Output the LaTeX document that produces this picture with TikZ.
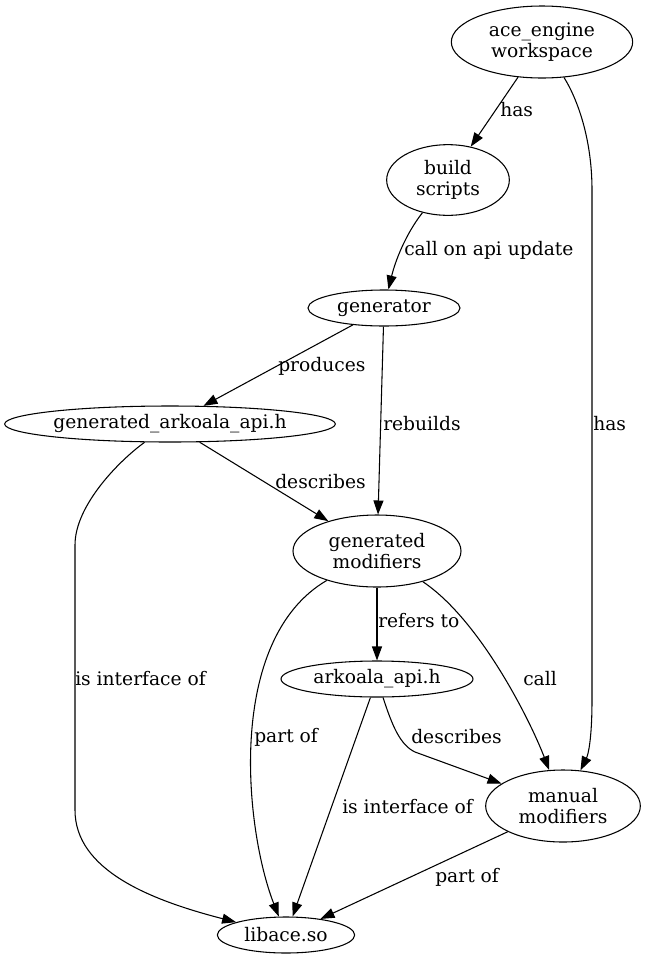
\documentclass[tikz,border=0pt]{standalone}
\usepackage{fontspec}
\setmainfont{DejaVu Serif}
\usetikzlibrary{shapes.geometric,arrows.meta}
\tikzset{
	blob/.style={draw,ellipse,line width=0.8pt,inner sep=0pt,align=center,font=\fontsize{14}{15.5}\selectfont},
	edge/.style={draw,line width=0.8pt,-{Triangle[length=10.5pt,width=7.5pt]}},
	lab/.style={anchor=west,inner sep=0pt,font=\fontsize{14}{15.5}\selectfont}
}
\begin{document}
\begin{tikzpicture}[x=0.75pt,y=-0.75pt]
	\useasboundingbox (0,0) rectangle (648,965);

	\node[blob,minimum width=136pt,minimum height=54pt] (ace) at (542,42) {ace\_engine\\workspace};
	\node[blob,minimum width=92pt,minimum height=53pt] (build) at (448,180) {build\\scripts};
	\node[blob,minimum width=114pt,minimum height=27pt] (gen) at (384,308) {generator};
	\node[blob,minimum width=248pt,minimum height=27pt] (gapi) at (170,424) {generated\_arkoala\_api.h};
	\node[blob,minimum width=126pt,minimum height=54pt] (gmod) at (377,551) {generated\\modifiers};
	\node[blob,minimum width=144pt,minimum height=27pt] (ark) at (377,679) {arkoala\_api.h};
	\node[blob,minimum width=116pt,minimum height=54pt] (manual) at (563,806) {manual\\modifiers};
	\node[blob,minimum width=103pt,minimum height=27pt] (libace) at (286,935) {libace.so};

	% edges
	\draw[edge] (ace) -- (build);
	\draw[edge] (ace) .. controls (578,100) and (592,140) .. (592,190) -- (592,700) .. controls (592,740) and (588,755) .. (manual);
	\draw[edge] (build) .. controls (405,235) and (395,262) .. (gen);
	\draw[edge] (gen) -- (gapi);
	\draw[edge] (gen) -- (gmod);
	\draw[edge] (gapi) -- (gmod);
	\draw[edge] (gapi) .. controls (120,460) and (75,505) .. (75,545) -- (75,810) .. controls (75,870) and (150,900) .. (libace);
	\draw[edge] (gmod) -- (ark);
	\draw[edge] (gmod) .. controls (225,640) and (245,830) .. (libace);
	\draw[edge] (gmod) .. controls (480,620) and (530,720) .. (manual);
	\draw[edge] (ark) -- (libace);
	\draw[edge] (ark) .. controls (392,725) and (400,745) .. (415,752) -- (manual);
	\draw[edge] (manual) -- (libace);

	\foreach \x/\y/\t [count=\i] in {500/110/has, 593/424/has, 404/250/call on api update, 278/366/produces, 383/424/rebuilds, 275/482/describes, 75/679/is interface of, 378/621/refers to, 254/737/part of, 523/679/call, 342/807/is interface of, 411/737/describes, 435/877/part of} {
		\node[lab] (lab\i) at (\x,\y) {\t};
	}
\end{tikzpicture}
\end{document}
